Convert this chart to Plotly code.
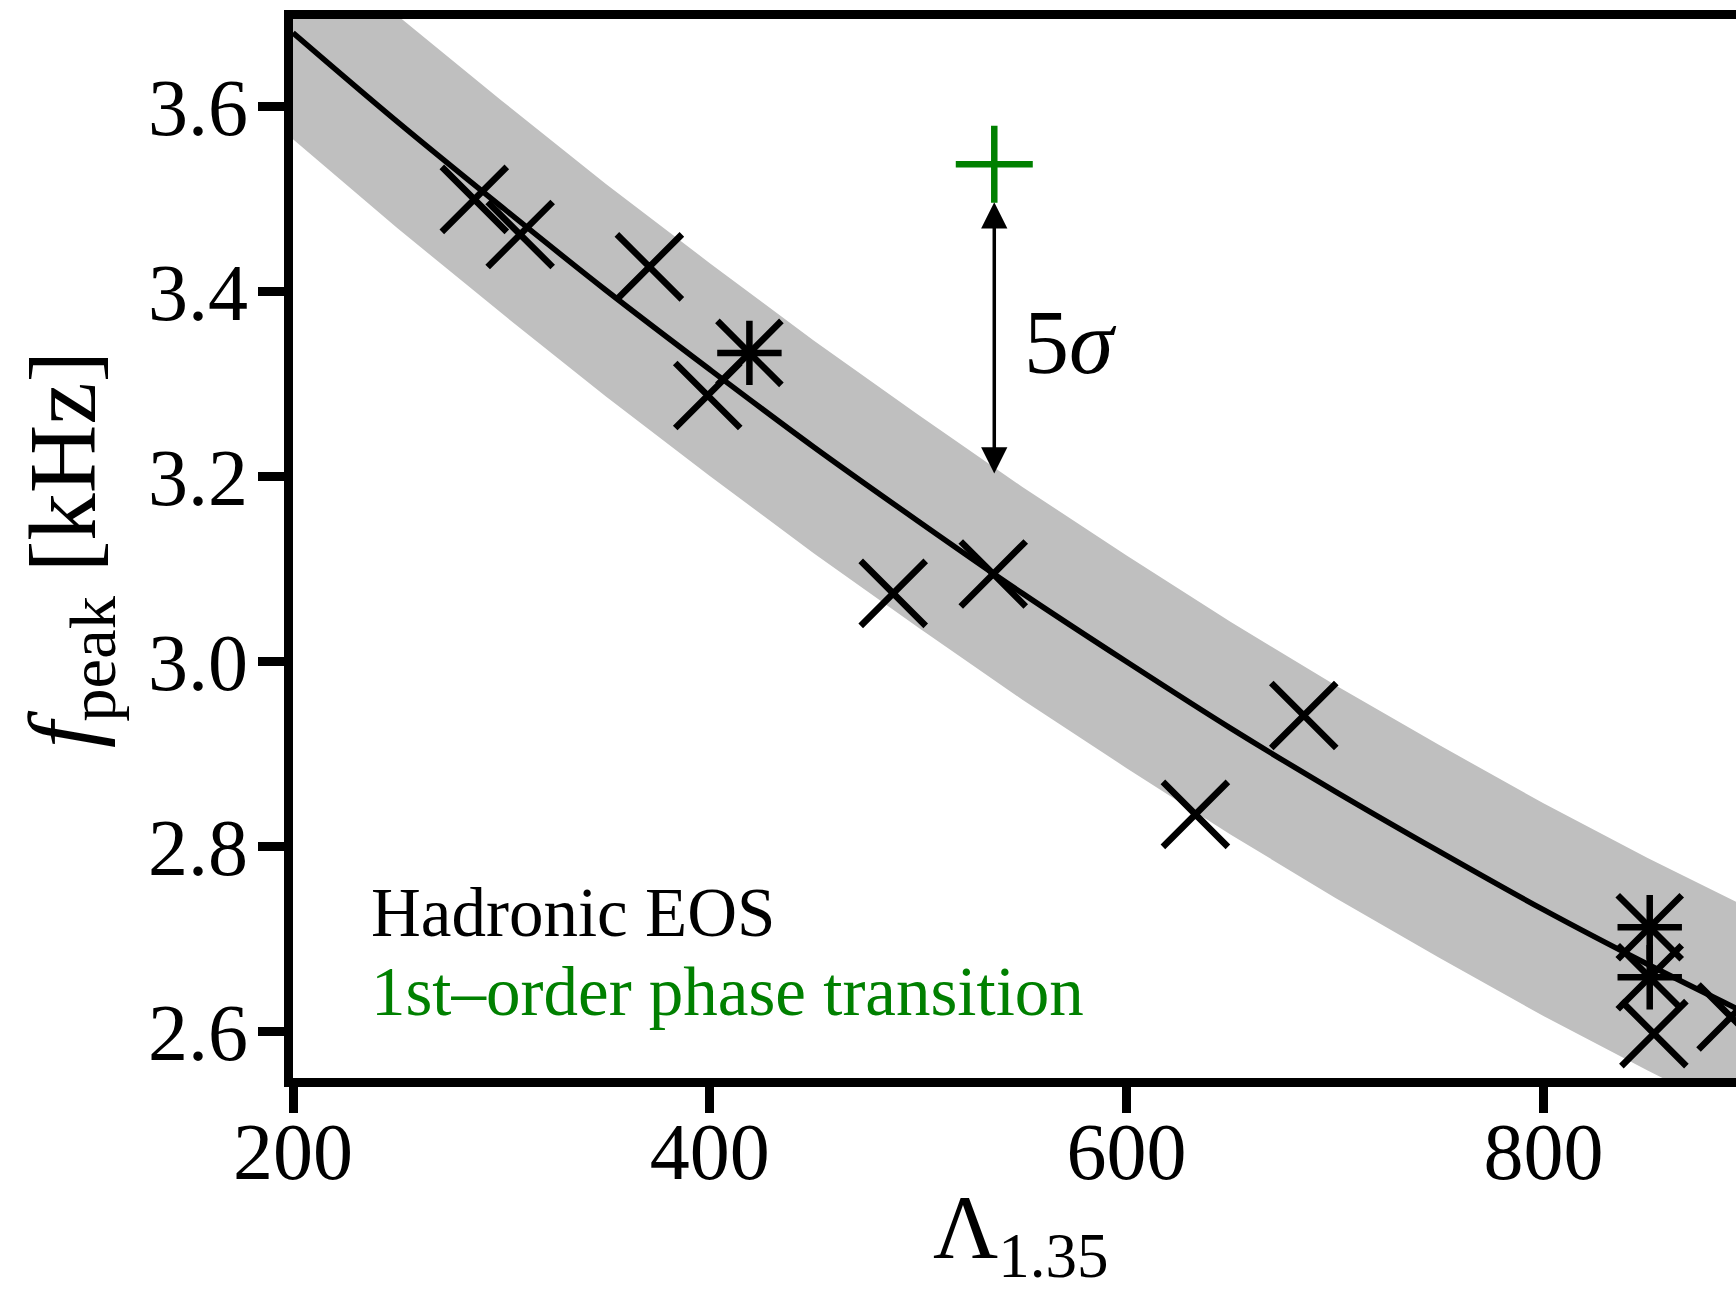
import plotly.graph_objects as go

# ---------------- data ----------------
# fit curve f_peak(Lambda) and its band
lam_fit = [200, 250, 300, 350, 400, 450, 500, 550, 600, 650, 700, 750, 800, 850, 900]
f_fit = [3.680, 3.584, 3.492, 3.402, 3.316, 3.232, 3.152, 3.074, 3.000, 2.928,
         2.860, 2.795, 2.732, 2.673, 2.617]
f_band_hi = [3.795, 3.699, 3.607, 3.517, 3.431, 3.347, 3.267, 3.189, 3.115, 3.043,
             2.975, 2.910, 2.847, 2.788, 2.732]
f_band_lo = [3.565, 3.469, 3.377, 3.287, 3.201, 3.117, 3.037, 2.959, 2.885, 2.813,
             2.745, 2.680, 2.617, 2.558, 2.502]

# hadronic EOS models, "x" markers
lam_x = [287, 309, 371, 399, 488, 536, 633, 685, 853, 890]
f_x = [3.500, 3.462, 3.427, 3.288, 3.074, 3.095, 2.835, 2.942, 2.598, 2.616]
# hadronic EOS models, asterisk markers
lam_star = [419, 851, 851]
f_star = [3.334, 2.713, 2.659]
# first-order phase transition model
lam_pt = [536.5]
f_pt = [3.538]

# 5 sigma arrow
arrow_lam = 536.5
arrow_f = [3.202, 3.497]

x_ticks = [200, 400, 600, 800]
y_ticks = [2.6, 2.8, 3.0, 3.2, 3.4, 3.6]
y_tick_text = ["2.6", "2.8", "3.0", "3.2", "3.4", "3.6"]

# ---------------- figure ----------------
FONT = "Liberation Serif"
BAND = "#bfbfbf"
GREEN = "#008000"
MW = 6.5  # marker stroke width

fig = go.Figure()

fig.add_trace(go.Scatter(x=lam_fit, y=f_band_lo, mode="lines",
                         line=dict(width=0, color=BAND), showlegend=False,
                         hoverinfo="skip"))
fig.add_trace(go.Scatter(x=lam_fit, y=f_band_hi, mode="lines", fill="tonexty",
                         fillcolor=BAND, line=dict(width=0, color=BAND),
                         showlegend=False, hoverinfo="skip"))
fig.add_trace(go.Scatter(x=lam_fit, y=f_fit, mode="lines", line_shape="spline",
                         line=dict(color="black", width=5.5), showlegend=False))

fig.add_trace(go.Scatter(x=lam_x, y=f_x, mode="markers", showlegend=False,
                         marker=dict(symbol="x-thin", size=65,
                                     line=dict(color="black", width=MW))))
# asterisk = x + plus of equal extent
fig.add_trace(go.Scatter(x=lam_star, y=f_star, mode="markers", showlegend=False,
                         marker=dict(symbol="x-thin", size=64,
                                     line=dict(color="black", width=MW))))
fig.add_trace(go.Scatter(x=lam_star, y=f_star, mode="markers", showlegend=False,
                         marker=dict(symbol="cross-thin", size=46,
                                     line=dict(color="black", width=MW))))
fig.add_trace(go.Scatter(x=lam_pt, y=f_pt, mode="markers", showlegend=False,
                         marker=dict(symbol="cross-thin", size=55,
                                     line=dict(color=GREEN, width=MW))))

# double-headed arrow
fig.add_annotation(x=arrow_lam, y=arrow_f[1], ax=arrow_lam, ay=arrow_f[0],
                   xref="x", yref="y", axref="x", ayref="y", text="",
                   showarrow=True, arrowside="end+start", arrowhead=2,
                   startarrowhead=2, arrowwidth=3.5, arrowsize=1.5,
                   startarrowsize=1.5, arrowcolor="black", font=dict(size=1))

# text annotations
fig.add_annotation(x=0.5055, y=0.6943, xref="paper", yref="paper",
                   text="5<i>σ</i>", showarrow=False, xanchor="left",
                   yanchor="middle", font=dict(family=FONT, size=90, color="black"))
fig.add_annotation(x=0.0530, y=0.1562, xref="paper", yref="paper",
                   text="Hadronic EOS", showarrow=False, xanchor="left",
                   yanchor="middle", font=dict(family=FONT, size=69, color="black"))
fig.add_annotation(x=0.0530, y=0.0809, xref="paper", yref="paper",
                   text="1st–order phase transition", showarrow=False,
                   xanchor="left", yanchor="middle",
                   font=dict(family=FONT, size=69, color=GREEN))
fig.add_annotation(x=-0.1545, y=0.4986, xref="paper", yref="paper",
                   text="<i>f</i><sub>peak</sub> [kHz]", showarrow=False,
                   textangle=-90, xanchor="center", yanchor="middle",
                   font=dict(family=FONT, size=95, color="black"))
fig.add_annotation(x=0.5045, y=-0.1474, xref="paper", yref="paper",
                   text="Λ<sub>1.35</sub>", showarrow=False,
                   xanchor="center", yanchor="middle",
                   font=dict(family=FONT, size=90, color="black"))

axis_common = dict(showline=True, linewidth=9, linecolor="black", ticks="outside",
                   ticklen=26, tickwidth=9, tickcolor="black", showgrid=False,
                   zeroline=False, tickfont=dict(family=FONT, size=80, color="black"))

fig.update_layout(
    width=1736, height=1291,
    margin=dict(l=293, r=0, t=19, b=213),
    paper_bgcolor="white", plot_bgcolor="white",
    showlegend=False,
    xaxis=dict(range=[200, 892.4], tickvals=x_ticks, mirror=True,
               ticklabelstandoff=-30, **axis_common),
    yaxis=dict(range=[2.55, 3.695], tickvals=y_ticks, ticktext=y_tick_text,
               mirror=False, ticklabelstandoff=-6, **axis_common),
)

fig.write_html("out.html",
               config={"displayModeBar": False},
               post_script="document.body.style.margin='0px';"
                           "document.body.style.overflow='hidden';")
